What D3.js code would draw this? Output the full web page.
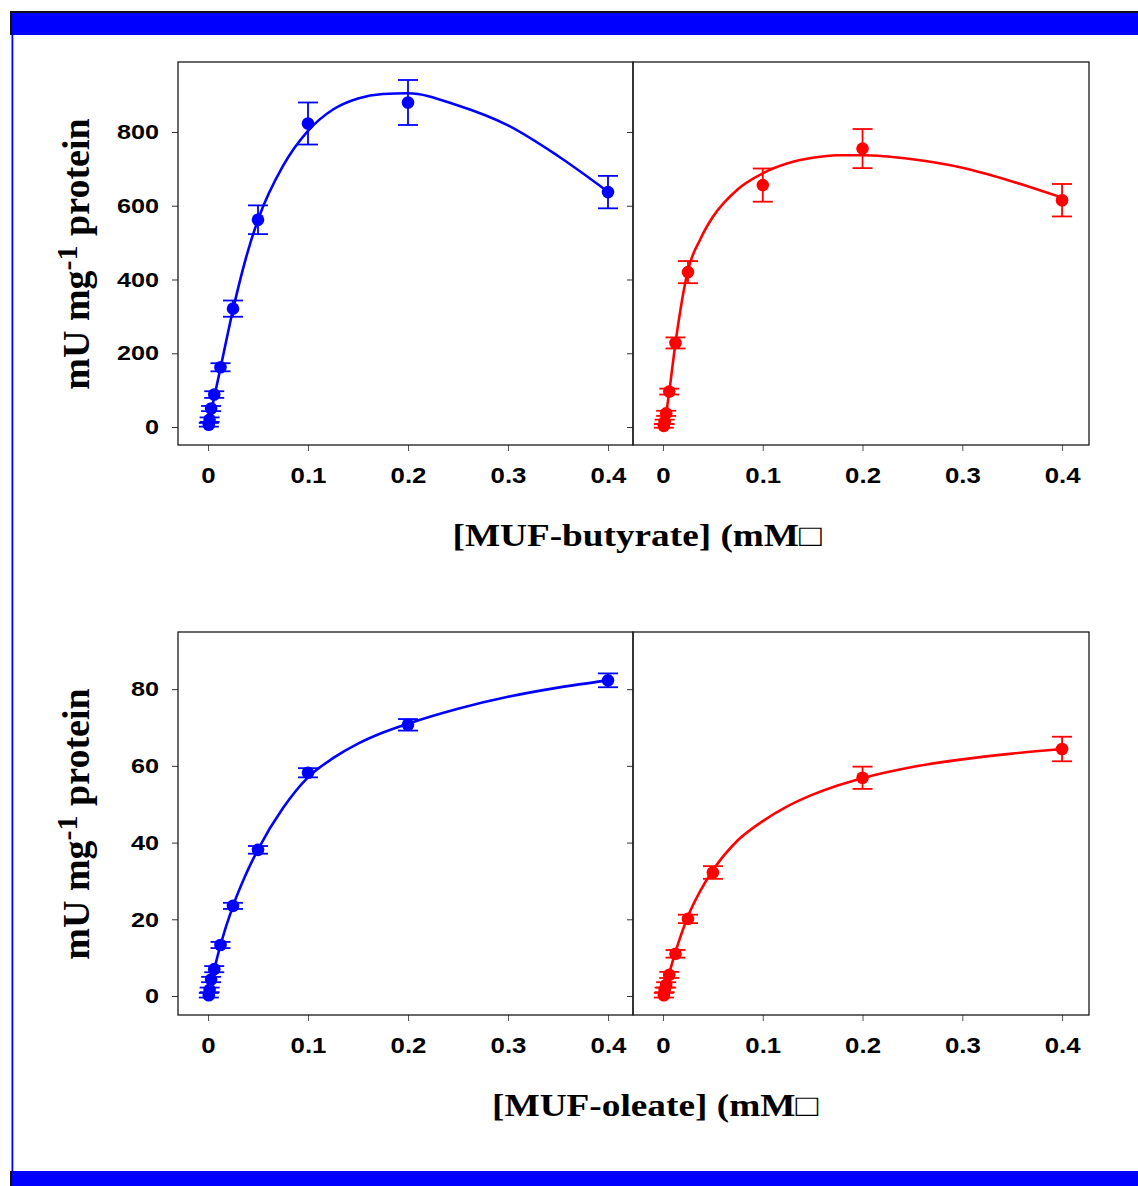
<!DOCTYPE html>
<html><head><meta charset="utf-8">
<script src="https://cdn.jsdelivr.net/npm/d3@7"></script>
<style>body{margin:0;background:#fff}svg{display:block}</style>
</head><body>
<script>
// ---------- data ----------
const concButyrateBlue = [0.0008, 0.0016, 0.003125, 0.00625, 0.0125, 0.025, 0.05, 0.1, 0.2, 0.4];
const butyrateBlue     = [6, 20, 50, 88, 162, 321, 562, 823, 880, 637];
const butyrateBlueErr  = [5, 6, 7, 9, 11, 22, 39, 57, 61, 44];

const concButyrateRed  = [0.0008, 0.0016, 0.003125, 0.00625, 0.0125, 0.025, 0.1, 0.2, 0.4];
const butyrateRed      = [3, 14, 37, 96, 228, 420, 656, 755, 615];
const butyrateRedErr   = [5, 6, 7, 8, 15, 30, 45, 53, 44];

const concOleateBlue   = [0.0008, 0.0016, 0.003125, 0.00625, 0.0125, 0.025, 0.05, 0.1, 0.2, 0.4];
const oleateBlue       = [0.2, 1.6, 4.3, 7.0, 13.3, 23.5, 38.1, 58.2, 70.7, 82.3];
const oleateBlueErr    = [0.6, 0.6, 0.7, 0.8, 0.8, 0.8, 1.0, 1.2, 1.5, 1.8];

const concOleateRed    = [0.0008, 0.0016, 0.003125, 0.00625, 0.0125, 0.025, 0.05, 0.2, 0.4];
const oleateRed        = [0.2, 1.6, 2.9, 5.5, 11.0, 20.1, 32.2, 56.9, 64.4];
const oleateRedErr     = [0.6, 0.6, 0.7, 0.8, 1.0, 1.1, 1.65, 2.9, 3.2];

// fitted curves
const fitConc            = [0, 0.0008, 0.0016, 0.003125, 0.00625, 0.0125, 0.025, 0.0375, 0.05, 0.075, 0.1, 0.125, 0.15, 0.175, 0.2, 0.25, 0.3, 0.35, 0.4];
const butyrateBlueFit    = [0, 10, 20, 41, 81, 160, 318, 454, 562, 708, 803, 861, 891, 903, 905, 872, 818, 735, 638];
const butyrateRedFit     = [0, 4, 14, 37, 96, 228, 425, 510, 570, 645, 688, 715, 730, 737, 737, 726, 703, 666, 622];
const oleateBlueFit      = [0, 0.6, 1.6, 3.8, 7.0, 13.3, 23.5, 31.5, 38.2, 49.0, 57.0, 62.0, 65.8, 68.7, 71.0, 74.9, 78.0, 80.4, 82.3];
const oleateRedFit       = [0, 0.3, 1.6, 3.2, 6.0, 11.5, 20.8, 27.5, 32.8, 40.6, 45.6, 49.5, 52.5, 54.9, 56.8, 59.7, 61.7, 63.2, 64.4];

const xTicks = [0, 0.1, 0.2, 0.3, 0.4];
const xTickLabels = ["0", "0.1", "0.2", "0.3", "0.4"];
const yTicksButyrate = [0, 200, 400, 600, 800];
const yTicksOleate = [0, 20, 40, 60, 80];
const xTitles = ["[MUF-butyrate] (mM\u25A1", "[MUF-oleate] (mM\u25A1"];
const yTitleMain = "mU mg", yTitleSup = "-1", yTitleEnd = " protein";

// ---------- layout ----------
const W = 1138, H = 1186;
const BLUE = "#0000ff", RED = "#ff0000";
const svg = d3.select("body").append("svg").attr("width", W).attr("height", H);

// page frame
svg.append("rect").attr("x", 10).attr("y", 11).attr("width", W - 10).attr("height", 2).attr("fill", "#111");
svg.append("rect").attr("x", 10).attr("y", 11).attr("width", 2).attr("height", 24).attr("fill", "#111");
svg.append("rect").attr("x", 12).attr("y", 13).attr("width", W - 12).attr("height", 22).attr("fill", BLUE);
svg.append("rect").attr("x", 11.5).attr("y", 35).attr("width", 1.8).attr("height", 1136).attr("fill", BLUE);
svg.append("rect").attr("x", 12).attr("y", 1171).attr("width", W - 12).attr("height", 15).attr("fill", BLUE);
svg.append("rect").attr("x", 10).attr("y", 1171).attr("width", 2).attr("height", 15).attr("fill", "#111");

const rows = [
  {y0: 62, y1: 445, yDomain: [-48.8, 989.8], yTicks: yTicksButyrate, title: xTitles[0], titleX: 637, titleY: 546, titleLen: 369, yTitleC: 254,
   panels: [
     {x0: 178, x1: 633, xDomain: [-0.03, 0.425], conc: concButyrateBlue, vals: butyrateBlue, err: butyrateBlueErr, fit: butyrateBlueFit, color: BLUE, labels: true},
     {x0: 633, x1: 1089, xDomain: [-0.0301, 0.427], conc: concButyrateRed, vals: butyrateRed, err: butyrateRedErr, fit: butyrateRedFit, color: RED, labels: false}
   ]},
  {y0: 632, y1: 1015, yDomain: [-4.95, 94.9], yTicks: yTicksOleate, title: xTitles[1], titleX: 655, titleY: 1116, titleLen: 326, yTitleC: 824,
   panels: [
     {x0: 178, x1: 633, xDomain: [-0.03, 0.425], conc: concOleateBlue, vals: oleateBlue, err: oleateBlueErr, fit: oleateBlueFit, color: BLUE, labels: true},
     {x0: 633, x1: 1089, xDomain: [-0.0301, 0.427], conc: concOleateRed, vals: oleateRed, err: oleateRedErr, fit: oleateRedFit, color: RED, labels: false}
   ]}
];

const SX = 1.2; // horizontal stretch of the tick labels
rows.forEach(row => {
  const y = d3.scaleLinear().domain(row.yDomain).range([row.y1, row.y0]);
  row.panels.forEach(p => {
    const x = d3.scaleLinear().domain(p.xDomain).range([p.x0, p.x1]);
    const g = svg.append("g");

    // y axis
    const ya = g.append("g").attr("transform", `translate(${p.x0},0)`)
      .call(d3.axisLeft(y).tickValues(row.yTicks).tickSize(6).tickPadding(13)
        .tickFormat(p.labels ? d3.format("d") : () => ""));
    ya.select(".domain").remove();
    ya.selectAll(".tick line").attr("stroke", "#333").attr("stroke-width", 1);
    ya.selectAll(".tick text").attr("fill", "#000").attr("font-family", "'Liberation Sans', Arial, sans-serif")
      .attr("font-weight", "bold").attr("font-size", 21)
      .attr("x", -19 / SX).attr("transform", `scale(${SX},1)`);

    // x axis
    const xa = g.append("g").attr("transform", `translate(0,${row.y1})`)
      .call(d3.axisBottom(x).tickValues(xTicks).tickSize(6).tickPadding(17)
        .tickFormat((d, i) => xTickLabels[i]));
    xa.select(".domain").remove();
    xa.selectAll(".tick line").attr("stroke", "#555").attr("stroke-width", 1);
    xa.selectAll(".tick text").attr("fill", "#000").attr("font-family", "'Liberation Sans', Arial, sans-serif")
      .attr("font-weight", "bold").attr("font-size", 21.5)
      .attr("transform", `scale(${SX},1)`);

    // fitted curve
    const line = d3.line().x((d, i) => x(fitConc[i])).y(d => y(d)).curve(d3.curveMonotoneX);
    g.append("path").datum(p.fit).attr("d", line).attr("fill", "none")
      .attr("stroke", p.color).attr("stroke-width", 2.6);

    // error bars
    const pts = p.conc.map((c, i) => ({c, v: p.vals[i], e: p.err[i]}));
    const eb = g.append("g").attr("stroke", p.color).attr("stroke-width", 1.8);
    eb.selectAll("line.v").data(pts).join("line").attr("class", "v")
      .attr("x1", d => x(d.c)).attr("x2", d => x(d.c))
      .attr("y1", d => y(d.v - d.e)).attr("y2", d => y(d.v + d.e));
    eb.selectAll("line.t").data(pts).join("line").attr("class", "t")
      .attr("x1", d => x(d.c) - 10).attr("x2", d => x(d.c) + 10)
      .attr("y1", d => y(d.v + d.e)).attr("y2", d => y(d.v + d.e));
    eb.selectAll("line.b").data(pts).join("line").attr("class", "b")
      .attr("x1", d => x(d.c) - 10).attr("x2", d => x(d.c) + 10)
      .attr("y1", d => y(d.v - d.e)).attr("y2", d => y(d.v - d.e));

    // points
    g.selectAll("circle").data(pts).join("circle")
      .attr("cx", d => x(d.c)).attr("cy", d => y(d.v)).attr("r", 6.3).attr("fill", p.color);

    // frame
    g.append("rect").attr("x", p.x0).attr("y", row.y0).attr("width", p.x1 - p.x0).attr("height", row.y1 - row.y0)
      .attr("fill", "none").attr("stroke", "#1a1a1a").attr("stroke-width", 1.3);
  });

  // x title
  svg.append("text").attr("x", row.titleX).attr("y", row.titleY).attr("text-anchor", "middle")
    .attr("font-family", "'Liberation Serif', 'Times New Roman', serif").attr("font-weight", "bold")
    .attr("font-size", 31).attr("textLength", row.titleLen).attr("lengthAdjust", "spacingAndGlyphs")
    .attr("fill", "#000").text(row.title);

  // y title
  const yt = svg.append("text").attr("transform", `translate(89,${row.yTitleC}) rotate(-90)`)
    .attr("text-anchor", "middle").attr("font-family", "'Liberation Serif', 'Times New Roman', serif")
    .attr("font-weight", "bold").attr("font-size", 38).attr("fill", "#000");
  yt.append("tspan").text(yTitleMain);
  yt.append("tspan").attr("dy", -12).attr("font-size", 30).text(yTitleSup);
  yt.append("tspan").attr("dy", 12).text(yTitleEnd);
});
</script>
</body></html>
